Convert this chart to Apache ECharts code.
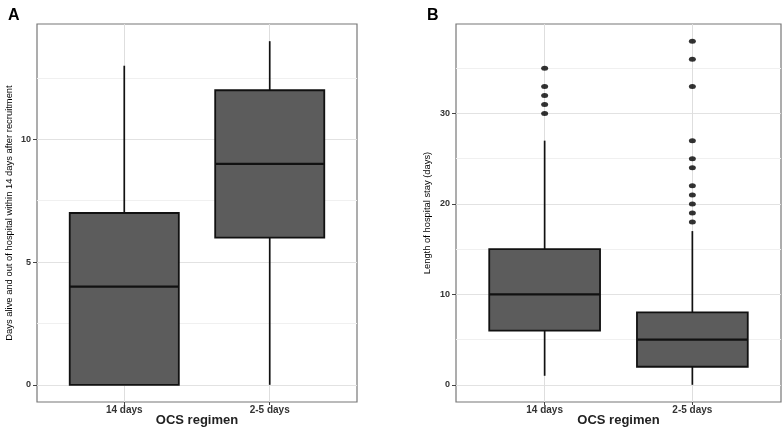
<!DOCTYPE html>
<html>
<head>
<meta charset="utf-8">
<script src="https://cdn.jsdelivr.net/npm/echarts@6/dist/echarts.min.js"></script>
<style>html,body{margin:0;padding:0;background:#fff;}#c{width:784px;height:432px;}</style>
</head>
<body>
<div id="c"></div>
<script>
// ---- data ----
const categories = ['14 days', '2-5 days'];
const catPos = [1, 2];
// Panel A: days alive and out of hospital
const aMin = [0, 0];
const aQ1 = [0, 6];
const aMed = [4, 9];
const aQ3 = [7, 12];
const aMax = [13, 14];
const aTicks = [0, 5, 10];
const aMinorTicks = [2.5, 7.5, 12.5];
// Panel B: length of hospital stay
const bMin = [1, 0];
const bQ1 = [6, 2];
const bMed = [10, 5];
const bQ3 = [15, 8];
const bMax = [27, 17];
const bOutliers14 = [30, 31, 32, 33, 35];
const bOutliers25 = [18, 19, 20, 21, 22, 24, 25, 27, 33, 36, 38];
const bTicks = [0, 10, 20, 30];
const bMinorTicks = [5, 15, 25, 35];

const titleA = 'Days alive and out of hospital within 14 days after recruitment';
const titleB = 'Length of hospital stay (days)';
const xTitle = 'OCS regimen';

// ---- build ----
const chart = echarts.init(document.getElementById('c'), null, {renderer: 'canvas'});
const sans = "'Liberation Sans', Arial, sans-serif";

function boxData(mn, q1, md, q3, mx) {
  return catPos.map((p, i) => [p, mn[i], q1[i], md[i], q3[i], mx[i]]);
}
function renderBox(params, api) {
  const x = api.value(0);
  const lo = api.coord([x, api.value(1)]);
  const q1 = api.coord([x, api.value(2)]);
  const md = api.coord([x, api.value(3)]);
  const q3 = api.coord([x, api.value(4)]);
  const hi = api.coord([x, api.value(5)]);
  const w = api.size([0.75, 0])[0];
  const cx = lo[0];
  const line = {stroke: '#111', lineWidth: 1.7};
  return {
    type: 'group',
    children: [
      {type: 'line', shape: {x1: cx, y1: lo[1], x2: cx, y2: q1[1]}, style: line},
      {type: 'line', shape: {x1: cx, y1: q3[1], x2: cx, y2: hi[1]}, style: line},
      {type: 'rect', shape: {x: cx - w / 2, y: q3[1], width: w, height: q1[1] - q3[1]},
        style: {fill: '#5c5c5c', stroke: '#111', lineWidth: 1.8}},
      {type: 'line', shape: {x1: cx - w / 2, y1: md[1], x2: cx + w / 2, y2: md[1]},
        style: {stroke: '#111', lineWidth: 2.2}}
    ]
  };
}

function xAxisFor(gridIndex) {
  return {
    type: 'value', gridIndex, min: 0.4, max: 2.6,
    name: xTitle, nameLocation: 'middle', nameGap: 12, nameMoveOverlap: false,
    nameTextStyle: {fontFamily: sans, fontSize: 13, fontWeight: 'bold', color: '#222'},
    axisLine: {show: false, onZero: false},
    axisTick: {show: true, length: 3, customValues: catPos, lineStyle: {color: '#444'}},
    axisLabel: {customValues: catPos, formatter: v => categories[Math.round(v) - 1],
      fontFamily: sans, fontSize: 10, fontWeight: 'bold', color: '#333', margin: 3},
    splitLine: {show: true, lineStyle: {color: '#dedede', width: 1}}
  };
}
function yAxisFor(gridIndex, min, max, ticks, title, gap) {
  return {
    type: 'value', gridIndex, min, max,
    name: title, nameLocation: 'middle', nameGap: gap, nameRotate: 90, nameMoveOverlap: false,
    nameTextStyle: {fontFamily: sans, fontSize: 9.4, color: '#000'},
    axisLine: {show: false, onZero: false},
    axisTick: {show: true, length: 4, customValues: ticks, lineStyle: {color: '#444'}},
    axisLabel: {customValues: ticks, fontFamily: sans, fontSize: 9, fontWeight: 'bold', color: '#333', margin: 6},
    splitLine: {show: true, lineStyle: {color: '#e2e2e2', width: 1}}
  };
}
function minorYAxis(gridIndex, min, max, ticks) {
  return {
    type: 'value', gridIndex, min, max, position: 'left',
    axisLine: {show: false, onZero: false},
    axisTick: {show: false, customValues: ticks},
    axisLabel: {show: false, customValues: ticks},
    splitLine: {show: true, lineStyle: {color: '#f0f0f0', width: 1}}
  };
}

const gridBase = {top: 24, height: 378, show: true, borderColor: '#777', borderWidth: 1.2,
  backgroundColor: '#fff', outerBoundsMode: 'none', containLabel: false};

const option = {
  backgroundColor: '#fff',
  animation: false,
  title: [
    {text: 'A', left: 3, top: 3, textStyle: {fontFamily: sans, fontSize: 16, fontWeight: 'bold', color: '#000'}},
    {text: 'B', left: 422, top: 3, textStyle: {fontFamily: sans, fontSize: 16, fontWeight: 'bold', color: '#000'}}
  ],
  grid: [
    Object.assign({left: 37, width: 320}, gridBase),
    Object.assign({left: 456, width: 325}, gridBase)
  ],
  xAxis: [xAxisFor(0), xAxisFor(1)],
  yAxis: [
    yAxisFor(0, -0.7, 14.7, aTicks, titleA, 23),
    yAxisFor(1, -1.9, 39.9, bTicks, titleB, 24),
    minorYAxis(0, -0.7, 14.7, aMinorTicks),
    minorYAxis(1, -1.9, 39.9, bMinorTicks)
  ],
  series: [
    {type: 'custom', xAxisIndex: 0, yAxisIndex: 0, renderItem: renderBox,
      encode: {x: 0, y: [1, 2, 3, 4, 5]}, data: boxData(aMin, aQ1, aMed, aQ3, aMax), z: 5},
    {type: 'custom', xAxisIndex: 1, yAxisIndex: 1, renderItem: renderBox,
      encode: {x: 0, y: [1, 2, 3, 4, 5]}, data: boxData(bMin, bQ1, bMed, bQ3, bMax), z: 5},
    {type: 'scatter', xAxisIndex: 1, yAxisIndex: 1, symbol: 'circle', symbolSize: [7, 5],
      itemStyle: {color: '#000'}, z: 6,
      data: bOutliers14.map(v => [catPos[0], v]).concat(bOutliers25.map(v => [catPos[1], v]))}
  ]
};
chart.setOption(option);
</script>
</body>
</html>
